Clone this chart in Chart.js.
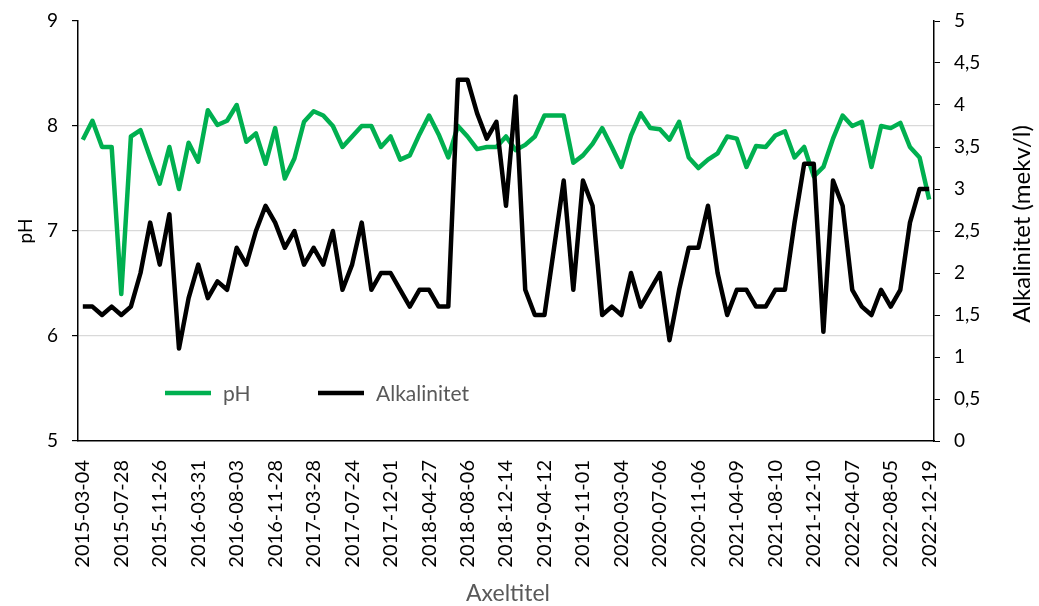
<!DOCTYPE html>
<html lang="sv">
<head>
<meta charset="utf-8">
<title>pH och alkalinitet</title>
<script src="https://cdn.jsdelivr.net/npm/chart.js"></script>
<style>
  html, body { margin: 0; padding: 0; background: #ffffff; }
  #wrap { width: 1039px; height: 606px; }
</style>
</head>
<body>
<div id="wrap"><canvas id="chart" width="1039" height="606"></canvas></div>
<script>
// Sampling dates (category axis)
const sampleDates = [
  '2015-03-04','2015-04-08','2015-05-12','2015-06-16','2015-07-28','2015-08-25','2015-09-22','2015-10-27',
  '2015-11-26','2015-12-17','2016-01-20','2016-02-24','2016-03-31','2016-04-27','2016-05-25','2016-06-22',
  '2016-08-03','2016-08-31','2016-09-28','2016-10-26','2016-11-28','2016-12-14','2017-01-25','2017-02-22',
  '2017-03-28','2017-04-26','2017-05-24','2017-06-21','2017-07-24','2017-08-23','2017-09-27','2017-10-25',
  '2017-12-01','2018-01-10','2018-02-14','2018-03-21','2018-04-27','2018-05-23','2018-06-20','2018-07-11',
  '2018-08-06','2018-09-05','2018-10-10','2018-11-14','2018-12-14','2019-01-16','2019-02-13','2019-03-13',
  '2019-04-12','2019-06-05','2019-08-07','2019-09-25','2019-11-01','2019-12-04','2020-01-15','2020-02-05',
  '2020-03-04','2020-04-08','2020-05-06','2020-06-03','2020-07-06','2020-08-05','2020-09-02','2020-10-07',
  '2020-11-06','2020-12-09','2021-01-20','2021-02-24','2021-04-09','2021-05-12','2021-06-09','2021-07-07',
  '2021-08-10','2021-09-08','2021-10-06','2021-11-10','2021-12-10','2022-01-12','2022-02-09','2022-03-09',
  '2022-04-07','2022-05-04','2022-06-08','2022-07-06','2022-08-05','2022-09-07','2022-10-05','2022-11-09',
  '2022-12-19'
];

// pH per sample
const phValues = [
  7.87, 8.05, 7.80, 7.80, 6.40, 7.90, 7.96, 7.70,
  7.45, 7.80, 7.40, 7.84, 7.66, 8.15, 8.01, 8.05,
  8.20, 7.85, 7.93, 7.64, 7.98, 7.50, 7.69, 8.04,
  8.14, 8.10, 8.00, 7.80, 7.90, 8.00, 8.00, 7.80,
  7.90, 7.68, 7.72, 7.92, 8.10, 7.92, 7.70, 8.00,
  7.90, 7.78, 7.80, 7.80, 7.90, 7.77, 7.82, 7.90,
  8.10, 8.10, 8.10, 7.65, 7.72, 7.83, 7.98, 7.80,
  7.61, 7.91, 8.12, 7.98, 7.97, 7.87, 8.04, 7.70,
  7.60, 7.68, 7.74, 7.90, 7.88, 7.61, 7.81, 7.80,
  7.91, 7.95, 7.70, 7.80, 7.52, 7.61, 7.88, 8.10,
  8.00, 8.04, 7.61, 8.00, 7.98, 8.03, 7.80, 7.70,
  7.30
];

// Alkalinity (mekv/l) per sample
const alkValues = [
  1.6, 1.6, 1.5, 1.6, 1.5, 1.6, 2.0, 2.6,
  2.1, 2.7, 1.1, 1.7, 2.1, 1.7, 1.9, 1.8,
  2.3, 2.1, 2.5, 2.8, 2.6, 2.3, 2.5, 2.1,
  2.3, 2.1, 2.5, 1.8, 2.1, 2.6, 1.8, 2.0,
  2.0, 1.8, 1.6, 1.8, 1.8, 1.6, 1.6, 4.3,
  4.3, 3.9, 3.6, 3.8, 2.8, 4.1, 1.8, 1.5,
  1.5, 2.3, 3.1, 1.8, 3.1, 2.8, 1.5, 1.6,
  1.5, 2.0, 1.6, 1.8, 2.0, 1.2, 1.8, 2.3,
  2.3, 2.8, 2.0, 1.5, 1.8, 1.8, 1.6, 1.6,
  1.8, 1.8, 2.6, 3.3, 3.3, 1.3, 3.1, 2.8,
  1.8, 1.6, 1.5, 1.8, 1.6, 1.8, 2.6, 3.0,
  3.0
];

const seriesNames = ['pH', 'Alkalinitet'];
const axisTitles = { left: 'pH', right: 'Alkalinitet (mekv/l)', bottom: 'Axeltitel' };

const FONT = 'Lato, "Open Sans", sans-serif';
const GREEN = '#00B050';
const BLACK = '#000000';
const GREY_TEXT = '#595959';

// Axis titles and the in-plot legend
const overlayText = {
  id: 'overlayText',
  afterDraw(chart) {
    const { ctx, chartArea } = chart;
    const midY = (chartArea.top + chartArea.bottom) / 2;
    ctx.save();
    ctx.textAlign = 'center';
    ctx.textBaseline = 'middle';
    ctx.fillStyle = BLACK;

    ctx.font = '19px ' + FONT;
    ctx.save();
    ctx.translate(26, midY);
    ctx.rotate(-Math.PI / 2);
    ctx.fillText(axisTitles.left, 0, 0);
    ctx.restore();

    ctx.font = '24px ' + FONT;
    ctx.save();
    ctx.translate(1022, midY - 7);
    ctx.rotate(-Math.PI / 2);
    ctx.fillText(axisTitles.right, 0, 0);
    ctx.restore();

    ctx.font = '23px ' + FONT;
    ctx.fillStyle = GREY_TEXT;
    ctx.fillText(axisTitles.bottom, 508, 594);

    // legend
    const entries = [
      { x: 165, ds: chart.data.datasets[0] },
      { x: 318, ds: chart.data.datasets[1] }
    ];
    const ly = 393;
    ctx.font = '21px ' + FONT;
    ctx.textAlign = 'left';
    entries.forEach(e => {
      ctx.strokeStyle = e.ds.borderColor;
      ctx.lineWidth = 4.5;
      ctx.lineCap = 'butt';
      ctx.beginPath();
      ctx.moveTo(e.x, ly);
      ctx.lineTo(e.x + 46, ly);
      ctx.stroke();
      ctx.fillStyle = GREY_TEXT;
      ctx.fillText(e.ds.label, e.x + 58, ly + 1);
    });
    ctx.restore();
  }
};

const tickFont = { family: FONT, size: 19 };

// Fixed box sizes for the value axes; label overflow is kept out of the layout
const fitValueAxis = width => s => {
  s.width = width;
  s.paddingTop = 0;
  s.paddingBottom = 0;
};

new Chart(document.getElementById('chart'), {
  type: 'line',
  data: {
    labels: sampleDates,
    datasets: [
      {
        label: seriesNames[0], data: phValues, yAxisID: 'yPh',
        borderColor: GREEN, borderWidth: 4.5, pointRadius: 0, tension: 0,
        borderJoinStyle: 'round', fill: false, order: 2
      },
      {
        label: seriesNames[1], data: alkValues, yAxisID: 'yAlk',
        borderColor: BLACK, borderWidth: 4.5, pointRadius: 0, tension: 0,
        borderJoinStyle: 'round', fill: false, order: 1
      }
    ]
  },
  options: {
    responsive: false,
    animation: false,
    devicePixelRatio: 1,
    layout: { padding: { top: 21, left: 0, right: 0, bottom: 0 } },
    plugins: { legend: { display: false }, tooltip: { enabled: false } },
    scales: {
      x: {
        type: 'category',
        offset: true,
        grid: { display: false },
        border: { display: true, color: BLACK, width: 1.5 },
        ticks: {
          autoSkip: false, minRotation: 90, maxRotation: 90, padding: 11,
          color: BLACK, font: { family: FONT, size: 20 },
          callback: function (v, i) { return i % 4 === 0 ? this.getLabelForValue(v) : ''; }
        },
        afterFit: s => { s.height = 165; s.paddingLeft = 0; s.paddingRight = 0; }
      },
      yPh: {
        position: 'left', min: 5, max: 9,
        ticks: { stepSize: 1, color: BLACK, font: tickFont, padding: 14 },
        grid: {
          color: c => (c.tick && (c.tick.value === 9 || c.tick.value === 5)) ? 'rgba(0,0,0,0)' : '#d9d9d9',
          lineWidth: 1.2, tickColor: BLACK, tickLength: 6, drawTicks: true
        },
        border: { color: BLACK, width: 1.5 },
        afterFit: fitValueAxis(78)
      },
      yAlk: {
        position: 'right', min: 0, max: 5,
        ticks: {
          stepSize: 0.5, color: BLACK, font: tickFont, padding: 14,
          callback: v => String(v).replace('.', ',')
        },
        grid: { drawOnChartArea: false, tickColor: BLACK, tickLength: 6 },
        border: { color: BLACK, width: 1.5 },
        afterFit: fitValueAxis(105)
      }
    }
  },
  plugins: [overlayText]
});
</script>
</body>
</html>
